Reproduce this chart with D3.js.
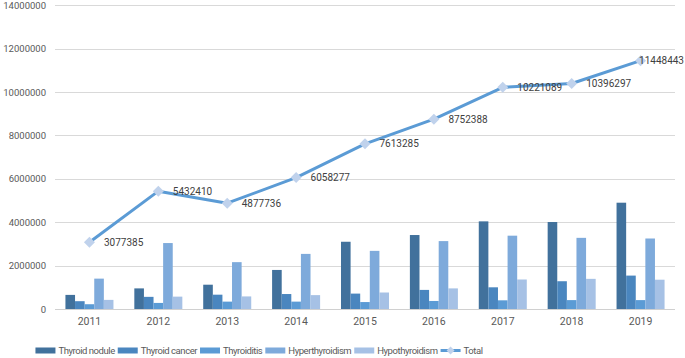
<!DOCTYPE html>
<html>
<head>
<meta charset="utf-8">
<script src="https://cdn.jsdelivr.net/npm/d3@7"></script>
<style>
  html, body { margin: 0; padding: 0; background: #fff; }
  svg { display: block; }
</style>
</head>
<body>
<svg id="chart" width="685" height="358"></svg>
<script>
const years = ["2011","2012","2013","2014","2015","2016","2017","2018","2019"];
const seriesNames = ["Thyroid nodule","Thyroid cancer","Thyroiditis","Hyperthyroidism","Hypothyroidism"];
const thyroidNodule   = [650000, 950000, 1120000, 1800000, 3100000, 3410000, 4040000, 4010000, 4900000];
const thyroidCancer   = [360000, 560000, 660000, 690000, 710000, 880000, 1000000, 1280000, 1540000];
const thyroiditis     = [220000, 280000, 340000, 340000, 320000, 370000, 400000, 410000, 410000];
const hyperthyroidism = [1400000, 3040000, 2160000, 2540000, 2680000, 3130000, 3380000, 3280000, 3250000];
const hypothyroidism  = [420000, 570000, 580000, 640000, 760000, 950000, 1360000, 1390000, 1350000];
const total           = [3077385, 5432410, 4877736, 6058277, 7613285, 8752388, 10221089, 10396297, 11448443];
const yTicks = [0, 2000000, 4000000, 6000000, 8000000, 10000000, 12000000, 14000000];
const seriesColors = ["#41719c", "#4a86bf", "#5b9bd5", "#7eaadb", "#a6c1e5"];

const seriesValues = [thyroidNodule, thyroidCancer, thyroiditis, hyperthyroidism, hypothyroidism];

const svg = d3.select("#chart");
const pLeft = 55, pRight = 675, pTop = 5.3, pBottom = 309;
const font = "Roboto, 'Open Sans', sans-serif";

const x0 = d3.scaleBand().domain(years).range([pLeft, pRight]).paddingInner(0.303).paddingOuter(0.1515);
const x1 = d3.scaleBand().domain(seriesNames).range([0, x0.bandwidth()]);
const y = d3.scaleLinear().domain([0, 14000000]).range([pBottom, pTop]);

// gridlines
svg.append("g").selectAll("line").data(yTicks).join("line")
  .attr("x1", pLeft).attr("x2", pRight)
  .attr("y1", d => Math.round(y(d)) + 0.5).attr("y2", d => Math.round(y(d)) + 0.5)
  .attr("stroke", d => d === 0 ? "#d0d0d0" : "#d9d9d9").attr("stroke-width", 1);

// y axis labels
const yAxis = d3.axisLeft(y).tickValues(yTicks).tickFormat(d3.format("d")).tickSize(0).tickPadding(0);
const yg = svg.append("g").attr("transform", `translate(${pLeft - 9},0)`).call(yAxis);
yg.select(".domain").remove();
yg.selectAll("text").attr("fill", "#595959").style("font-family", font).style("font-size", "9.5px");

// x axis labels
const xAxis = d3.axisBottom(x0).tickSize(0).tickPadding(0);
const xg = svg.append("g").attr("transform", `translate(0,${pBottom + 9})`).call(xAxis);
xg.select(".domain").remove();
xg.selectAll("text").attr("fill", "#595959").style("font-family", font).style("font-size", "10.5px");

// bars
const barData = [];
years.forEach((yr, i) => {
  seriesNames.forEach((s, j) => {
    barData.push({ year: yr, series: s, value: seriesValues[j][i], color: seriesColors[j] });
  });
});
svg.append("g").selectAll("rect").data(barData).join("rect")
  .attr("x", d => x0(d.year) + x1(d.series))
  .attr("width", x1.bandwidth())
  .attr("y", d => y(d.value))
  .attr("height", d => y(0) - y(d.value))
  .attr("fill", d => d.color);

// total line
const cx = d => x0(d) + x0.bandwidth() / 2;
const lineData = years.map((yr, i) => ({ year: yr, value: total[i] }));
const line = d3.line().x(d => cx(d.year)).y(d => y(d.value));
svg.append("path").datum(lineData).attr("d", line)
  .attr("fill", "none").attr("stroke", "#5b9bd5").attr("stroke-width", 3).attr("stroke-linejoin", "round");

svg.append("g").selectAll("path").data(lineData).join("path")
  .attr("transform", d => `translate(${cx(d.year)},${y(d.value)})`)
  .attr("d", "M0,-5.5L5.5,0L0,5.5L-5.5,0Z")
  .attr("fill", "#c0d2ec");

// data labels
const labels = svg.append("g").selectAll("text").data(lineData).join("text")
  .attr("y", d => y(d.value))
  .attr("dy", "0.35em")
  .attr("fill", "#404040")
  .style("font-family", font).style("font-size", "10px")
  .text(d => d.value);
labels.each(function(d) {
  const w = this.getComputedTextLength();
  const xx = Math.min(cx(d.year) + 14.5, 684 - w);
  d3.select(this).attr("x", xx);
});

// legend
const legendItems = seriesNames.map((s, j) => ({ name: s, color: seriesColors[j], type: "bar" }))
  .concat([{ name: "Total", color: "#5b9bd5", type: "line" }]);
const lg = svg.append("g");
const legendY = 350.5;
let xpos = 0;
legendItems.forEach(it => {
  const g = lg.append("g").attr("transform", `translate(${xpos},0)`);
  if (it.type === "bar") {
    g.append("rect").attr("x", 0).attr("y", legendY - 3).attr("width", 20).attr("height", 6).attr("fill", it.color);
  } else {
    g.append("line").attr("x1", 0).attr("x2", 20).attr("y1", legendY).attr("y2", legendY)
      .attr("stroke", it.color).attr("stroke-width", 3);
    g.append("path").attr("transform", `translate(10,${legendY})`).attr("d", "M0,-4L4,0L0,4L-4,0Z").attr("fill", "#c0d2ec");
  }
  const t = g.append("text").attr("x", 23).attr("y", legendY).attr("dy", "0.35em")
    .attr("fill", "#595959").style("font-family", font).style("font-size", "9.5px")
    .style("letter-spacing", "-0.45px").text(it.name);
  xpos += 23 + t.node().getComputedTextLength() + 3;
});
const wTot = xpos - 3;
lg.attr("transform", `translate(${259 - wTot / 2},0)`);
</script>
</body>
</html>
